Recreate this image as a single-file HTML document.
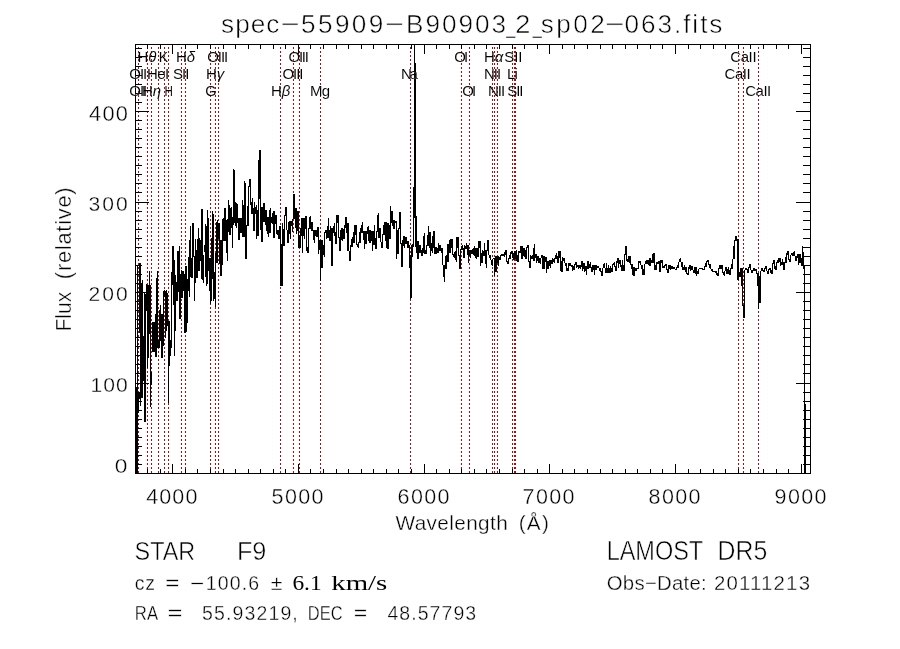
<!DOCTYPE html><html><head><meta charset="utf-8"><title>spectrum</title><style>html,body{margin:0;padding:0;background:#fff;width:900px;height:649px;overflow:hidden}svg{display:block;will-change:transform}</style></head><body><svg width="900" height="649" viewBox="0 0 900 649"><rect width="900" height="649" fill="#fff"/><g shape-rendering="crispEdges"><path d="M138.5 44V473M147.5 44V473M151.5 44V473M158.5 44V473M164.5 44V473M168.5 44V473M181.5 44V473M185.5 44V473M210.5 44V473M215.5 44V473M218.5 44V473M280.5 44V473M293.5 44V473M299.5 44V473M320.5 44V473M410.5 44V473M461.5 44V473M469.5 44V473M492.5 44V473M494.5 44V473M497.5 44V473M512.5 44V473M514.5 44V473M515.5 44V473M738.5 44V473M743.5 44V473M758.5 44V473" stroke="#a01010" stroke-width="1" stroke-dasharray="2 2" stroke-dashoffset="1" fill="none"/><rect x="135.5" y="44.5" width="675" height="429" fill="none" stroke="#000" stroke-width="1"/><path d="M147.5 473V469M147.5 45V49M160.5 473V469M160.5 45V49M172.5 473V464M172.5 45V54M185.5 473V469M185.5 45V49M197.5 473V469M197.5 45V49M210.5 473V469M210.5 45V49M223.5 473V469M223.5 45V49M235.5 473V469M235.5 45V49M248.5 473V469M248.5 45V49M260.5 473V469M260.5 45V49M273.5 473V469M273.5 45V49M285.5 473V469M285.5 45V49M298.5 473V464M298.5 45V54M310.5 473V469M310.5 45V49M323.5 473V469M323.5 45V49M336.5 473V469M336.5 45V49M348.5 473V469M348.5 45V49M361.5 473V469M361.5 45V49M373.5 473V469M373.5 45V49M386.5 473V469M386.5 45V49M398.5 473V469M398.5 45V49M411.5 473V469M411.5 45V49M424.5 473V464M424.5 45V54M436.5 473V469M436.5 45V49M449.5 473V469M449.5 45V49M461.5 473V469M461.5 45V49M474.5 473V469M474.5 45V49M486.5 473V469M486.5 45V49M499.5 473V469M499.5 45V49M512.5 473V469M512.5 45V49M524.5 473V469M524.5 45V49M537.5 473V469M537.5 45V49M549.5 473V464M549.5 45V54M562.5 473V469M562.5 45V49M574.5 473V469M574.5 45V49M587.5 473V469M587.5 45V49M600.5 473V469M600.5 45V49M612.5 473V469M612.5 45V49M625.5 473V469M625.5 45V49M637.5 473V469M637.5 45V49M650.5 473V469M650.5 45V49M662.5 473V469M662.5 45V49M675.5 473V464M675.5 45V54M688.5 473V469M688.5 45V49M700.5 473V469M700.5 45V49M713.5 473V469M713.5 45V49M725.5 473V469M725.5 45V49M738.5 473V469M738.5 45V49M750.5 473V469M750.5 45V49M763.5 473V469M763.5 45V49M776.5 473V469M776.5 45V49M788.5 473V469M788.5 45V49M801.5 473V464M801.5 45V54M136 464.5H142M810 464.5H803M136 455.5H142M810 455.5H803M136 446.5H142M810 446.5H803M136 437.5H142M810 437.5H803M136 428.5H142M810 428.5H803M136 419.5H142M810 419.5H803M136 410.5H142M810 410.5H803M136 401.5H142M810 401.5H803M136 392.5H142M810 392.5H803M136 383.5H149M810 383.5H796M136 373.5H142M810 373.5H803M136 364.5H142M810 364.5H803M136 355.5H142M810 355.5H803M136 346.5H142M810 346.5H803M136 337.5H142M810 337.5H803M136 328.5H142M810 328.5H803M136 319.5H142M810 319.5H803M136 310.5H142M810 310.5H803M136 301.5H142M810 301.5H803M136 292.5H149M810 292.5H796M136 283.5H142M810 283.5H803M136 274.5H142M810 274.5H803M136 265.5H142M810 265.5H803M136 256.5H142M810 256.5H803M136 247.5H142M810 247.5H803M136 238.5H142M810 238.5H803M136 229.5H142M810 229.5H803M136 220.5H142M810 220.5H803M136 211.5H142M810 211.5H803M136 202.5H149M810 202.5H796M136 192.5H142M810 192.5H803M136 183.5H142M810 183.5H803M136 174.5H142M810 174.5H803M136 165.5H142M810 165.5H803M136 156.5H142M810 156.5H803M136 147.5H142M810 147.5H803M136 138.5H142M810 138.5H803M136 129.5H142M810 129.5H803M136 120.5H142M810 120.5H803M136 111.5H149M810 111.5H796M136 102.5H142M810 102.5H803M136 93.5H142M810 93.5H803M136 84.5H142M810 84.5H803M136 75.5H142M810 75.5H803M136 66.5H142M810 66.5H803M136 57.5H142M810 57.5H803M136 48.5H142M810 48.5H803" stroke="#000" stroke-width="1" fill="none"/><path d="M135.5 265V474M136.5 387V474M137.5 265V474M138.5 393V413M139.5 263V333M139.5 392V399M140.5 263V406M141.5 283V398M142.5 280V398M143.5 336V381M144.5 293V422M145.5 294V422M146.5 284V311M147.5 285V368M148.5 285V358M149.5 271V334M150.5 285V407M151.5 372V385M152.5 322V352M153.5 322V352M154.5 322V352M155.5 314V357M156.5 278V357M157.5 271V348M158.5 340V348M159.5 310V348M160.5 305V341M161.5 314V358M162.5 314V358M163.5 291V346M164.5 290V297M165.5 291V338M166.5 290V331M167.5 293V326M168.5 321V403M169.5 321V366M170.5 340V356M171.5 272V348M172.5 246V285M173.5 246V305M174.5 260V356M175.5 275V331M176.5 282V301M177.5 251V301M178.5 251V292M179.5 246V319M180.5 274V319M181.5 270V298M182.5 271V298M183.5 271V291M184.5 274V333M185.5 266V333M186.5 266V332M187.5 279V323M188.5 257V291M189.5 240V297M190.5 226V277M191.5 258V278M192.5 223V278M193.5 223V257M194.5 256V301M195.5 239V283M196.5 250V278M197.5 239V278M198.5 228V271M199.5 238V271M200.5 240V261M201.5 209V279M202.5 209V280M203.5 255V283M204.5 245V252M205.5 224V277M206.5 226V286M207.5 210V284M208.5 218V271M209.5 258V291M210.5 258V304M211.5 238V301M212.5 211V279M213.5 214V301M214.5 272V299M215.5 253V307M216.5 222V263M217.5 220V263M218.5 223V239M219.5 223V264M220.5 240V276M221.5 240V276M222.5 219V265M223.5 218V241M224.5 208V241M225.5 208V241M226.5 220V253M227.5 219V261M228.5 200V232M229.5 205V235M230.5 208V235M231.5 207V228M232.5 217V248M233.5 169V225M234.5 170V223M235.5 202V226M236.5 203V228M237.5 204V223M238.5 218V240M239.5 218V240M240.5 218V233M241.5 218V233M242.5 200V237M243.5 205V237M244.5 181V237M245.5 183V259M246.5 225V259M247.5 206V226M248.5 186V226M249.5 179V187M250.5 179V205M251.5 202V214M252.5 198V214M253.5 208V231M254.5 202V231M255.5 207V214M256.5 205V239M257.5 210V236M258.5 160V236M259.5 150V199M260.5 150V230M261.5 207V242M262.5 207V242M263.5 203V222M264.5 203V222M265.5 210V225M266.5 210V231M267.5 217V234M268.5 217V237M269.5 210V233M270.5 208V233M271.5 217V223M272.5 213V224M273.5 211V238M274.5 211V238M275.5 215V224M276.5 215V234M277.5 230V235M278.5 230V239M279.5 226V239M280.5 226V286M281.5 244V286M282.5 223V286M283.5 229V246M284.5 215V246M285.5 207V216M286.5 207V230M287.5 230V243M288.5 222V243M289.5 221V234M290.5 221V239M291.5 221V226M292.5 219V232M293.5 194V219M294.5 194V219M295.5 208V228M296.5 208V234M297.5 211V231M298.5 211V248M299.5 235V248M300.5 228V248M301.5 218V236M302.5 218V253M303.5 218V236M304.5 218V239M305.5 216V229M306.5 216V251M307.5 247V253M308.5 228V253M309.5 217V229M310.5 216V229M311.5 222V231M312.5 222V231M313.5 230V240M314.5 230V243M315.5 230V236M316.5 230V237M317.5 227V237M318.5 227V254M319.5 240V250M320.5 240V281M321.5 240V268M322.5 240V268M323.5 245V255M324.5 232V257M325.5 230V233M326.5 230V239M327.5 226V238M328.5 218V238M329.5 230V241M330.5 226V241M331.5 228V266M332.5 228V266M333.5 226V233M334.5 223V236M335.5 232V244M336.5 215V244M337.5 215V223M338.5 215V238M339.5 237V251M340.5 230V251M341.5 228V240M342.5 228V241M343.5 229V239M344.5 225V239M345.5 217V228M346.5 217V233M347.5 223V251M348.5 223V251M349.5 251V261M350.5 245V261M351.5 239V247M352.5 237V247M353.5 232V243M354.5 225V243M355.5 225V235M356.5 225V245M357.5 244V247M358.5 242V248M359.5 232V243M360.5 228V243M361.5 225V233M362.5 222V233M363.5 231V240M364.5 231V249M365.5 231V244M366.5 231V244M367.5 227V234M368.5 226V241M369.5 230V243M370.5 230V243M371.5 231V241M372.5 231V251M373.5 231V245M374.5 225V245M375.5 238V249M376.5 231V249M377.5 215V232M378.5 213V238M379.5 228V238M380.5 228V242M381.5 242V248M382.5 234V248M383.5 225V235M384.5 222V235M385.5 222V241M386.5 222V248M387.5 223V249M388.5 223V249M389.5 225V239M390.5 206V239M391.5 211V223M392.5 211V226M393.5 220V229M394.5 220V229M395.5 221V223M396.5 221V259M397.5 230V254M398.5 228V254M399.5 212V229M400.5 212V244M401.5 243V267M402.5 240V267M403.5 236V246M404.5 236V248M405.5 237V244M406.5 237V244M407.5 241V248M408.5 241V248M409.5 245V268M416.5 216V253M417.5 241V259M418.5 241V259M419.5 245V253M420.5 245V253M421.5 250V256M422.5 248V256M423.5 236V253M424.5 233V254M425.5 250V254M426.5 245V254M427.5 235V246M428.5 226V246M429.5 232V248M430.5 232V256M431.5 243V251M432.5 236V253M433.5 231V248M434.5 231V254M435.5 247V254M436.5 247V254M437.5 248V253M438.5 243V253M439.5 245V251M440.5 245V251M441.5 248V253M442.5 248V265M443.5 265V277M444.5 265V282M445.5 256V269M446.5 255V269M447.5 244V262M448.5 244V262M449.5 240V253M450.5 239V253M451.5 239V248M452.5 239V255M453.5 254V257M454.5 252V258M455.5 251V260M456.5 237V262M457.5 237V248M458.5 237V256M459.5 255V269M460.5 249V269M461.5 246V250M462.5 245V250M463.5 248V258M464.5 245V258M465.5 246V249M466.5 243V249M467.5 245V255M468.5 245V263M469.5 250V256M470.5 250V258M471.5 250V254M472.5 249V254M473.5 248V255M474.5 246V256M475.5 248V258M476.5 248V259M477.5 248V257M478.5 241V257M479.5 241V248M480.5 241V266M481.5 253V263M482.5 250V263M483.5 251V256M484.5 243V256M485.5 250V264M486.5 250V268M487.5 240V251M488.5 240V255M489.5 255V258M490.5 255V260M491.5 260V265M492.5 259V266M493.5 258V259M494.5 258V276M495.5 256V272M496.5 256V272M497.5 256V263M498.5 256V266M499.5 257V260M500.5 255V260M501.5 254V256M502.5 254V256M503.5 254V256M504.5 252V257M505.5 250V255M506.5 250V262M507.5 261V264M508.5 258V264M509.5 255V259M510.5 252V259M511.5 251V254M512.5 251V258M513.5 253V260M514.5 251V260M515.5 251V259M516.5 250V261M517.5 255V262M518.5 251V262M519.5 251V253M520.5 246V253M521.5 246V259M522.5 246V259M523.5 248V256M524.5 248V257M525.5 250V259M526.5 247V259M527.5 245V248M528.5 245V262M529.5 261V268M530.5 255V268M531.5 256V259M532.5 255V259M533.5 248V261M534.5 244V261M535.5 254V258M536.5 254V263M537.5 256V261M538.5 256V263M539.5 258V263M540.5 258V264M541.5 255V258M542.5 255V269M543.5 256V269M544.5 256V269M545.5 257V262M546.5 257V273M547.5 261V269M548.5 261V269M549.5 260V266M550.5 260V268M551.5 260V264M552.5 258V264M553.5 259V262M554.5 258V263M555.5 255V259M556.5 253V259M557.5 256V263M558.5 251V263M559.5 251V258M560.5 251V271M561.5 261V272M562.5 257V272M563.5 258V261M564.5 258V263M565.5 263V266M566.5 263V271M567.5 268V271M568.5 263V271M569.5 263V266M570.5 263V266M571.5 265V267M572.5 265V271M573.5 266V270M574.5 264V270M575.5 262V265M576.5 262V268M577.5 265V267M578.5 265V269M579.5 265V268M580.5 265V269M581.5 261V267M582.5 261V271M583.5 263V269M584.5 263V272M585.5 266V271M586.5 266V275M587.5 261V269M588.5 261V269M589.5 264V268M590.5 262V268M591.5 267V272M592.5 265V272M593.5 265V270M594.5 265V275M595.5 265V270M596.5 265V270M597.5 266V268M598.5 266V268M599.5 268V271M600.5 268V272M601.5 271V276M602.5 268V276M603.5 264V268M604.5 263V268M605.5 268V273M606.5 263V273M607.5 268V273M608.5 265V273M609.5 268V273M610.5 266V273M611.5 268V272M612.5 264V272M613.5 263V265M614.5 262V267M615.5 266V271M616.5 261V271M617.5 258V263M618.5 258V268M619.5 260V264M620.5 260V267M621.5 265V271M622.5 260V271M623.5 265V271M624.5 254V271M625.5 246V255M626.5 246V261M627.5 259V262M628.5 256V262M629.5 256V263M630.5 256V265M631.5 264V269M632.5 264V275M633.5 267V276M634.5 267V276M635.5 268V271M636.5 268V271M637.5 268V269M638.5 261V269M639.5 261V263M640.5 261V265M641.5 265V269M642.5 265V275M643.5 269V275M644.5 264V275M645.5 261V264M646.5 260V264M647.5 260V264M648.5 260V265M649.5 258V266M650.5 258V266M651.5 260V263M652.5 254V263M653.5 253V263M654.5 253V270M655.5 265V270M656.5 262V270M657.5 262V264M658.5 261V264M659.5 261V272M660.5 260V272M661.5 260V263M662.5 260V268M663.5 266V268M664.5 265V268M665.5 264V266M666.5 264V270M667.5 269V273M668.5 265V273M669.5 265V269M670.5 265V270M671.5 266V269M672.5 266V269M673.5 267V269M674.5 267V269M675.5 269V270M676.5 267V270M677.5 265V268M678.5 262V268M679.5 259V262M680.5 258V262M681.5 262V267M682.5 262V270M683.5 267V270M684.5 265V270M685.5 267V272M686.5 267V274M687.5 273V275M688.5 267V275M689.5 265V269M690.5 265V271M691.5 266V270M692.5 266V270M693.5 270V273M694.5 267V273M695.5 267V274M696.5 267V276M697.5 271V274M698.5 269V274M699.5 268V269M700.5 268V269M701.5 268V269M702.5 268V270M703.5 269V270M704.5 266V270M705.5 263V267M706.5 261V267M707.5 260V262M708.5 260V265M709.5 264V268M710.5 264V269M711.5 269V271M712.5 269V272M713.5 271V272M714.5 271V272M715.5 271V273M716.5 271V275M717.5 273V276M718.5 268V276M719.5 265V269M720.5 265V269M721.5 265V269M722.5 265V273M723.5 272V275M724.5 271V276M725.5 267V271M726.5 267V274M727.5 269V274M728.5 267V274M729.5 270V275M730.5 268V275M731.5 264V269M732.5 259V269M733.5 246V259M734.5 240V259M735.5 236V241M736.5 236V241M737.5 239V280M738.5 239V280M739.5 272V277M740.5 268V277M741.5 268V286M742.5 268V306M743.5 305V318M744.5 270V318M745.5 268V270M746.5 268V270M747.5 269V273M748.5 267V273M749.5 264V268M750.5 264V270M751.5 270V273M752.5 270V273M753.5 268V271M754.5 268V271M755.5 269V271M756.5 269V274M757.5 273V286M758.5 273V309M759.5 276V303M760.5 271V303M761.5 268V271M762.5 268V271M763.5 270V272M764.5 268V272M765.5 266V269M766.5 266V271M767.5 271V274M768.5 269V274M769.5 268V270M770.5 268V273M771.5 270V274M772.5 263V274M773.5 260V264M774.5 260V269M775.5 266V270M776.5 262V270M777.5 260V263M778.5 258V263M779.5 258V262M780.5 258V266M781.5 262V265M782.5 259V265M783.5 262V270M784.5 262V270M785.5 257V263M786.5 253V263M787.5 251V255M788.5 251V260M789.5 259V262M790.5 255V262M791.5 253V255M792.5 253V256M793.5 252V256M794.5 251V256M795.5 256V261M796.5 256V261M797.5 254V258M798.5 254V265M799.5 254V263M800.5 254V263M801.5 258V266M802.5 246V266M803.5 252V269M804.5 265V474M805.5 404V474M410.5 255V299M411.5 245V298M412.5 244V257M413.5 187V247M414.5 44V218M415.5 63V247" stroke="#000" stroke-width="1" fill="none"/></g><g fill="#000"><text transform="translate(221.05 33.00) scale(1.0000 1)" xml:space="preserve" font-family='"Liberation Sans", sans-serif' font-size="26.16" font-style="normal" letter-spacing="1.02" stroke="#fff" stroke-width="0.55">spec</text><text transform="translate(280.56 33.00) scale(1.2553 1)" xml:space="preserve" font-family='"Liberation Sans", sans-serif' font-size="26.16" font-style="normal" letter-spacing="0.00" stroke="#fff" stroke-width="0.55">&#8722;</text><text transform="translate(301.09 33.00) scale(1.0000 1)" xml:space="preserve" font-family='"Liberation Sans", sans-serif' font-size="26.16" font-style="normal" letter-spacing="2.35" stroke="#fff" stroke-width="0.55">55909</text><text transform="translate(384.76 33.00) scale(1.2553 1)" xml:space="preserve" font-family='"Liberation Sans", sans-serif' font-size="26.16" font-style="normal" letter-spacing="0.00" stroke="#fff" stroke-width="0.55">&#8722;</text><text transform="translate(406.04 33.00) scale(1.0000 1)" xml:space="preserve" font-family='"Liberation Sans", sans-serif' font-size="26.16" font-style="normal" letter-spacing="1.98" stroke="#fff" stroke-width="0.55">B90903</text><text transform="translate(506.21 33.00) scale(0.6243 1)" xml:space="preserve" font-family='"Liberation Sans", sans-serif' font-size="26.16" font-style="normal" letter-spacing="0.00" stroke="#fff" stroke-width="0.55">_</text><text transform="translate(515.01 33.00) scale(1.0617 1)" xml:space="preserve" font-family='"Liberation Sans", sans-serif' font-size="26.16" font-style="normal" letter-spacing="0.00" stroke="#fff" stroke-width="0.55">2</text><text transform="translate(532.81 33.00) scale(0.6243 1)" xml:space="preserve" font-family='"Liberation Sans", sans-serif' font-size="26.16" font-style="normal" letter-spacing="0.00" stroke="#fff" stroke-width="0.55">_</text><text transform="translate(540.65 33.00) scale(1.0000 1)" xml:space="preserve" font-family='"Liberation Sans", sans-serif' font-size="26.16" font-style="normal" letter-spacing="2.45" stroke="#fff" stroke-width="0.55">sp02</text><text transform="translate(605.03 33.00) scale(1.2794 1)" xml:space="preserve" font-family='"Liberation Sans", sans-serif' font-size="26.16" font-style="normal" letter-spacing="0.00" stroke="#fff" stroke-width="0.55">&#8722;</text><text transform="translate(624.39 33.00) scale(1.0000 1)" xml:space="preserve" font-family='"Liberation Sans", sans-serif' font-size="26.16" font-style="normal" letter-spacing="1.96" stroke="#fff" stroke-width="0.55">063.fits</text><text transform="translate(89.05 120.50) scale(1.0000 1)" xml:space="preserve" font-family='"Liberation Sans", sans-serif' font-size="21.80" font-style="normal" letter-spacing="1.26" stroke="#fff" stroke-width="0.35">400</text><text transform="translate(88.55 210.70) scale(1.0000 1)" xml:space="preserve" font-family='"Liberation Sans", sans-serif' font-size="21.08" font-style="normal" letter-spacing="2.00" stroke="#fff" stroke-width="0.35">300</text><text transform="translate(88.55 300.80) scale(1.0000 1)" xml:space="preserve" font-family='"Liberation Sans", sans-serif' font-size="21.08" font-style="normal" letter-spacing="2.00" stroke="#fff" stroke-width="0.35">200</text><text transform="translate(90.42 392.00) scale(1.0000 1)" xml:space="preserve" font-family='"Liberation Sans", sans-serif' font-size="21.08" font-style="normal" letter-spacing="1.07" stroke="#fff" stroke-width="0.35">100</text><text transform="translate(114.86 473.30) scale(1.0939 1)" xml:space="preserve" font-family='"Liberation Sans", sans-serif' font-size="20.78" font-style="normal" letter-spacing="0.00" stroke="#fff" stroke-width="0.35">0</text><text transform="translate(146.16 503.80) scale(1.0000 1)" xml:space="preserve" font-family='"Liberation Sans", sans-serif' font-size="21.51" font-style="normal" letter-spacing="1.14" stroke="#fff" stroke-width="0.35">4000</text><text transform="translate(271.62 503.80) scale(1.0000 1)" xml:space="preserve" font-family='"Liberation Sans", sans-serif' font-size="21.51" font-style="normal" letter-spacing="1.32" stroke="#fff" stroke-width="0.35">5000</text><text transform="translate(397.62 503.80) scale(1.0000 1)" xml:space="preserve" font-family='"Liberation Sans", sans-serif' font-size="21.51" font-style="normal" letter-spacing="1.32" stroke="#fff" stroke-width="0.35">6000</text><text transform="translate(522.62 503.80) scale(1.0000 1)" xml:space="preserve" font-family='"Liberation Sans", sans-serif' font-size="21.51" font-style="normal" letter-spacing="1.32" stroke="#fff" stroke-width="0.35">7000</text><text transform="translate(648.62 503.80) scale(1.0000 1)" xml:space="preserve" font-family='"Liberation Sans", sans-serif' font-size="21.51" font-style="normal" letter-spacing="1.32" stroke="#fff" stroke-width="0.35">8000</text><text transform="translate(774.62 503.80) scale(1.0000 1)" xml:space="preserve" font-family='"Liberation Sans", sans-serif' font-size="21.51" font-style="normal" letter-spacing="1.32" stroke="#fff" stroke-width="0.35">9000</text><text transform="translate(395.50 529.80) scale(1.0000 1)" xml:space="preserve" font-family='"Liberation Sans", sans-serif' font-size="20.78" font-style="normal" letter-spacing="0.37" stroke="#fff" stroke-width="0.35">Wavelength</text><text transform="translate(518.64 529.80) scale(1.0000 1)" xml:space="preserve" font-family='"Liberation Sans", sans-serif' font-size="20.78" font-style="normal" letter-spacing="1.28" stroke="#fff" stroke-width="0.35">(&#197;)</text><text transform="translate(71.00 330.00) rotate(-90) translate(-1.58 0) scale(0.9683 1)" xml:space="preserve" font-family='"Liberation Sans", sans-serif' font-size="21.80" font-style="normal" letter-spacing="0.00" stroke="#fff" stroke-width="0.35">Flux</text><text transform="translate(71.00 277.50) rotate(-90) translate(-1.64 0) scale(1.0000 1)" xml:space="preserve" font-family='"Liberation Sans", sans-serif' font-size="21.80" font-style="normal" letter-spacing="0.77" stroke="#fff" stroke-width="0.35">(relative)</text><text transform="translate(134.53 560.00) scale(0.8959 1)" xml:space="preserve" font-family='"Liberation Sans", sans-serif' font-size="26.16" font-style="normal" letter-spacing="0.00" stroke="#fff" stroke-width="0.55">STAR</text><text transform="translate(236.90 560.00) scale(0.9683 1)" xml:space="preserve" font-family='"Liberation Sans", sans-serif' font-size="26.16" font-style="normal" letter-spacing="0.00" stroke="#fff" stroke-width="0.55">F9</text><text transform="translate(134.73 589.60) scale(1.0000 1)" xml:space="preserve" font-family='"Liberation Sans", sans-serif' font-size="19.48" font-style="normal" letter-spacing="0.77" stroke="#fff" stroke-width="0.35">cz</text><text transform="translate(165.18 589.60) scale(1.2539 1)" xml:space="preserve" font-family='"Liberation Sans", sans-serif' font-size="19.48" font-style="normal" letter-spacing="0.00" stroke="#fff" stroke-width="0.35">=</text><text transform="translate(190.08 589.60) scale(1.2539 1)" xml:space="preserve" font-family='"Liberation Sans", sans-serif' font-size="19.48" font-style="normal" letter-spacing="0.00" stroke="#fff" stroke-width="0.35">&#8722;</text><text transform="translate(205.84 589.60) scale(1.0000 1)" xml:space="preserve" font-family='"Liberation Sans", sans-serif' font-size="19.48" font-style="normal" letter-spacing="1.11" stroke="#fff" stroke-width="0.35">100.6</text><text transform="translate(270.76 589.60) scale(1.0987 1)" xml:space="preserve" font-family='"Liberation Sans", sans-serif' font-size="19.48" font-style="normal" letter-spacing="0.00" stroke="#fff" stroke-width="0.35">&#177;</text><text transform="translate(292.43 589.60) scale(1.1349 1)" xml:space="preserve" font-family='"Liberation Serif", serif' font-size="20.61" font-style="normal" letter-spacing="0.00" stroke="#000" stroke-width="0.00">6.1</text><text transform="translate(331.28 589.60) scale(1.3973 1)" xml:space="preserve" font-family='"Liberation Serif", serif' font-size="20.61" font-style="normal" letter-spacing="0.00" stroke="#000" stroke-width="0.00">km/s</text><text transform="translate(134.85 619.60) scale(0.8570 1)" xml:space="preserve" font-family='"Liberation Sans", sans-serif' font-size="19.48" font-style="normal" letter-spacing="0.00" stroke="#fff" stroke-width="0.35">RA</text><text transform="translate(167.62 619.60) scale(1.3187 1)" xml:space="preserve" font-family='"Liberation Sans", sans-serif' font-size="19.48" font-style="normal" letter-spacing="0.00" stroke="#fff" stroke-width="0.35">=</text><text transform="translate(202.03 619.60) scale(1.0000 1)" xml:space="preserve" font-family='"Liberation Sans", sans-serif' font-size="19.48" font-style="normal" letter-spacing="1.14" stroke="#fff" stroke-width="0.35">55.93219,</text><text transform="translate(307.87 619.60) scale(0.8446 1)" xml:space="preserve" font-family='"Liberation Sans", sans-serif' font-size="19.48" font-style="normal" letter-spacing="0.00" stroke="#fff" stroke-width="0.35">DEC</text><text transform="translate(353.84 619.60) scale(1.1890 1)" xml:space="preserve" font-family='"Liberation Sans", sans-serif' font-size="19.48" font-style="normal" letter-spacing="0.00" stroke="#fff" stroke-width="0.35">=</text><text transform="translate(387.41 619.60) scale(1.0000 1)" xml:space="preserve" font-family='"Liberation Sans", sans-serif' font-size="19.48" font-style="normal" letter-spacing="1.08" stroke="#fff" stroke-width="0.35">48.57793</text><text transform="translate(606.64 560.00) scale(0.8511 1)" xml:space="preserve" font-family='"Liberation Sans", sans-serif' font-size="27.62" font-style="normal" letter-spacing="0.00" stroke="#fff" stroke-width="0.55">LAMOST</text><text transform="translate(717.54 560.00) scale(0.9000 1)" xml:space="preserve" font-family='"Liberation Sans", sans-serif' font-size="27.62" font-style="normal" letter-spacing="0.00" stroke="#fff" stroke-width="0.55">DR5</text><text transform="translate(606.78 590.00) scale(1.0000 1)" xml:space="preserve" font-family='"Liberation Sans", sans-serif' font-size="20.35" font-style="normal" letter-spacing="0.27" stroke="#fff" stroke-width="0.35">Obs&#8722;Date:</text><text transform="translate(713.88 590.00) scale(1.0000 1)" xml:space="preserve" font-family='"Liberation Sans", sans-serif' font-size="20.35" font-style="normal" letter-spacing="1.23" stroke="#fff" stroke-width="0.35">20111213</text><text transform="translate(129.25 78.70) scale(1.0000 1)" xml:space="preserve" font-family='"Liberation Sans", sans-serif' font-size="14.97" font-style="normal" letter-spacing="-0.98" stroke="#fff" stroke-width="0.05">OII</text><text transform="translate(129.25 95.60) scale(1.0000 1)" xml:space="preserve" font-family='"Liberation Sans", sans-serif' font-size="14.97" font-style="normal" letter-spacing="-0.98" stroke="#fff" stroke-width="0.05">OII</text><text transform="translate(137.48 61.80) scale(1.0000 1)" xml:space="preserve" font-family='"Liberation Sans", sans-serif' font-size="14.97" font-style="normal" letter-spacing="-0.02" stroke="#fff" stroke-width="0.05">H<tspan font-style="italic">&#952;</tspan></text><text transform="translate(141.88 95.60) scale(1.0000 1)" xml:space="preserve" font-family='"Liberation Sans", sans-serif' font-size="14.97" font-style="normal" letter-spacing="-0.02" stroke="#fff" stroke-width="0.05">H<tspan font-style="italic">&#951;</tspan></text><text transform="translate(146.88 78.70) scale(1.0000 1)" xml:space="preserve" font-family='"Liberation Sans", sans-serif' font-size="14.97" font-style="normal" letter-spacing="-0.48" stroke="#fff" stroke-width="0.05">HeI</text><text transform="translate(158.64 61.80) scale(0.9410 1)" xml:space="preserve" font-family='"Liberation Sans", sans-serif' font-size="14.97" font-style="normal" letter-spacing="0.00" stroke="#fff" stroke-width="0.05">K</text><text transform="translate(164.43 95.60) scale(0.7783 1)" xml:space="preserve" font-family='"Liberation Sans", sans-serif' font-size="14.97" font-style="normal" letter-spacing="0.00" stroke="#fff" stroke-width="0.05">H</text><text transform="translate(173.05 78.70) scale(1.0000 1)" xml:space="preserve" font-family='"Liberation Sans", sans-serif' font-size="14.97" font-style="normal" letter-spacing="-0.95" stroke="#fff" stroke-width="0.05">SII</text><text transform="translate(175.88 61.80) scale(1.0000 1)" xml:space="preserve" font-family='"Liberation Sans", sans-serif' font-size="14.97" font-style="normal" letter-spacing="-0.05" stroke="#fff" stroke-width="0.05">H<tspan font-style="italic">&#948;</tspan></text><text transform="translate(205.28 95.60) scale(0.9660 1)" xml:space="preserve" font-family='"Liberation Sans", sans-serif' font-size="14.97" font-style="normal" letter-spacing="0.00" stroke="#fff" stroke-width="0.05">G</text><text transform="translate(205.88 78.70) scale(1.0000 1)" xml:space="preserve" font-family='"Liberation Sans", sans-serif' font-size="14.97" font-style="normal" letter-spacing="-0.03" stroke="#fff" stroke-width="0.05">H<tspan font-style="italic">&#947;</tspan></text><text transform="translate(207.25 61.80) scale(1.0000 1)" xml:space="preserve" font-family='"Liberation Sans", sans-serif' font-size="14.97" font-style="normal" letter-spacing="-1.03" stroke="#fff" stroke-width="0.05">OIII</text><text transform="translate(270.88 95.60) scale(1.0000 1)" xml:space="preserve" font-family='"Liberation Sans", sans-serif' font-size="14.97" font-style="normal" letter-spacing="-0.02" stroke="#fff" stroke-width="0.05">H<tspan font-style="italic">&#946;</tspan></text><text transform="translate(282.45 78.70) scale(1.0000 1)" xml:space="preserve" font-family='"Liberation Sans", sans-serif' font-size="14.97" font-style="normal" letter-spacing="-1.03" stroke="#fff" stroke-width="0.05">OIII</text><text transform="translate(288.45 61.80) scale(1.0000 1)" xml:space="preserve" font-family='"Liberation Sans", sans-serif' font-size="14.97" font-style="normal" letter-spacing="-1.19" stroke="#fff" stroke-width="0.05">OIII</text><text transform="translate(309.88 95.60) scale(1.0000 1)" xml:space="preserve" font-family='"Liberation Sans", sans-serif' font-size="14.97" font-style="normal" letter-spacing="-0.71" stroke="#fff" stroke-width="0.05">Mg</text><text transform="translate(401.08 78.70) scale(1.0000 1)" xml:space="preserve" font-family='"Liberation Sans", sans-serif' font-size="14.97" font-style="normal" letter-spacing="-2.37" stroke="#fff" stroke-width="0.05">Na</text><text transform="translate(454.25 61.80) scale(1.0000 1)" xml:space="preserve" font-family='"Liberation Sans", sans-serif' font-size="14.97" font-style="normal" letter-spacing="-1.85" stroke="#fff" stroke-width="0.05">OI</text><text transform="translate(462.25 95.60) scale(1.0000 1)" xml:space="preserve" font-family='"Liberation Sans", sans-serif' font-size="14.97" font-style="normal" letter-spacing="-1.85" stroke="#fff" stroke-width="0.05">OI</text><text transform="translate(483.88 78.70) scale(1.0000 1)" xml:space="preserve" font-family='"Liberation Sans", sans-serif' font-size="14.97" font-style="normal" letter-spacing="-0.92" stroke="#fff" stroke-width="0.05">NII</text><text transform="translate(483.88 61.80) scale(1.0000 1)" xml:space="preserve" font-family='"Liberation Sans", sans-serif' font-size="14.97" font-style="normal" letter-spacing="-0.02" stroke="#fff" stroke-width="0.05">H<tspan font-style="italic">&#945;</tspan></text><text transform="translate(487.88 95.60) scale(1.0000 1)" xml:space="preserve" font-family='"Liberation Sans", sans-serif' font-size="14.97" font-style="normal" letter-spacing="-0.92" stroke="#fff" stroke-width="0.05">NII</text><text transform="translate(506.88 78.70) scale(1.0000 1)" xml:space="preserve" font-family='"Liberation Sans", sans-serif' font-size="14.97" font-style="normal" letter-spacing="-0.73" stroke="#fff" stroke-width="0.05">Li</text><text transform="translate(504.25 61.80) scale(1.0000 1)" xml:space="preserve" font-family='"Liberation Sans", sans-serif' font-size="14.97" font-style="normal" letter-spacing="-0.05" stroke="#fff" stroke-width="0.05">SII</text><text transform="translate(507.25 95.60) scale(1.0000 1)" xml:space="preserve" font-family='"Liberation Sans", sans-serif' font-size="14.97" font-style="normal" letter-spacing="-1.05" stroke="#fff" stroke-width="0.05">SII</text><text transform="translate(724.55 78.70) scale(1.0000 1)" xml:space="preserve" font-family='"Liberation Sans", sans-serif' font-size="14.97" font-style="normal" letter-spacing="-0.48" stroke="#fff" stroke-width="0.05">CaII</text><text transform="translate(730.25 61.80) scale(1.0000 1)" xml:space="preserve" font-family='"Liberation Sans", sans-serif' font-size="14.97" font-style="normal" letter-spacing="-0.38" stroke="#fff" stroke-width="0.05">CaII</text><text transform="translate(745.25 95.60) scale(1.0000 1)" xml:space="preserve" font-family='"Liberation Sans", sans-serif' font-size="14.97" font-style="normal" letter-spacing="-0.48" stroke="#fff" stroke-width="0.05">CaII</text></g></svg></body></html>
